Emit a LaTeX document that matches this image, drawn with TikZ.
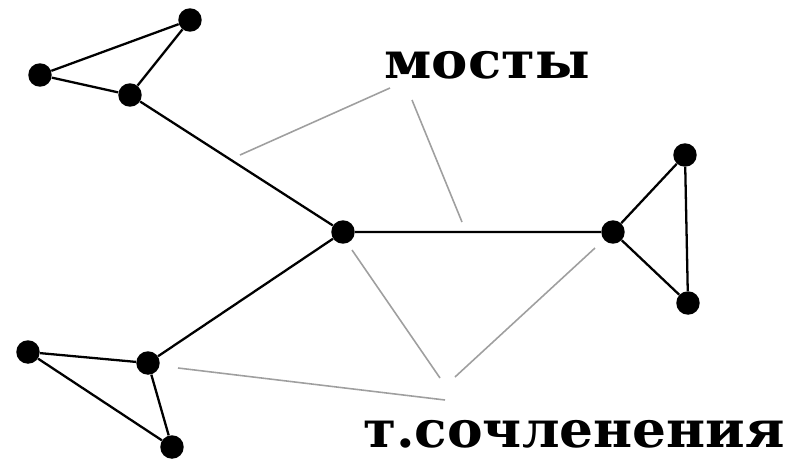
\documentclass[tikz,border=0pt]{standalone}
\usepackage{fontspec}
\newfontfamily\labelfont{DejaVu Serif}
\usepackage{tikz}
\usetikzlibrary{calc, positioning}

\begin{document}
\begin{tikzpicture}[x=0.02cm, y=-0.02cm,
    vertex/.style={circle, fill=black, inner sep=0pt, minimum size=0.47cm},
    edge/.style={line width=1.3pt, black},
    pointer/.style={line width=0.9pt, gray!75},
    caption/.style={anchor=base, inner sep=0pt, xscale=1.07,
        font=\labelfont\bfseries\fontsize{29}{29}\selectfont}]
    \useasboundingbox (0,0) rectangle (796,460);
    % 1. Các đỉnh
    \node[vertex] (a) at (190,20) {};
    \node[vertex] (b) at (40,75) {};
    \node[vertex] (c) at (130,95) {};
    \node[vertex] (d) at (343,232) {};
    \node[vertex] (e) at (613,232) {};
    \node[vertex] (f) at (685,155) {};
    \node[vertex] (g) at (688,303) {};
    \node[vertex] (h) at (148,363) {};
    \node[vertex] (i) at (28,352) {};
    \node[vertex] (j) at (172,447) {};
    
    % 2. Các cạnh
    \draw[edge] (a) -- (b) -- (c) -- (a);
    \draw[edge] (c) -- (d) -- (e);
    \draw[edge] (e) -- (f) -- (g) -- (e);
    \draw[edge] (d) -- (h);
    \draw[edge] (h) -- (i) -- (j) -- (h);
    
    % 3. Nhãn
    \node[caption] (mosty) at (487,78) {мосты};
    \node[caption, xscale=0.98] (sochl) at (574,447) {т.сочленения};
    
    % 4. Đường chỉ
    \coordinate (m1) at (390,88);
    \coordinate (m1e) at (240,155);
    \coordinate (m2) at (412,100);
    \coordinate (m2e) at (462,222);
    \coordinate (s1) at (440,378);
    \coordinate (s1e) at (352,250);
    \coordinate (s2) at (455,377);
    \coordinate (s2e) at (595,248);
    \coordinate (s3) at (445,400);
    \coordinate (s3e) at (178,368);
    \draw[pointer] (m1) -- (m1e);
    \draw[pointer] (m2) -- (m2e);
    \draw[pointer] (s1) -- (s1e);
    \draw[pointer] (s2) -- (s2e);
    \draw[pointer] (s3) -- (s3e);
\end{tikzpicture}
\end{document}
